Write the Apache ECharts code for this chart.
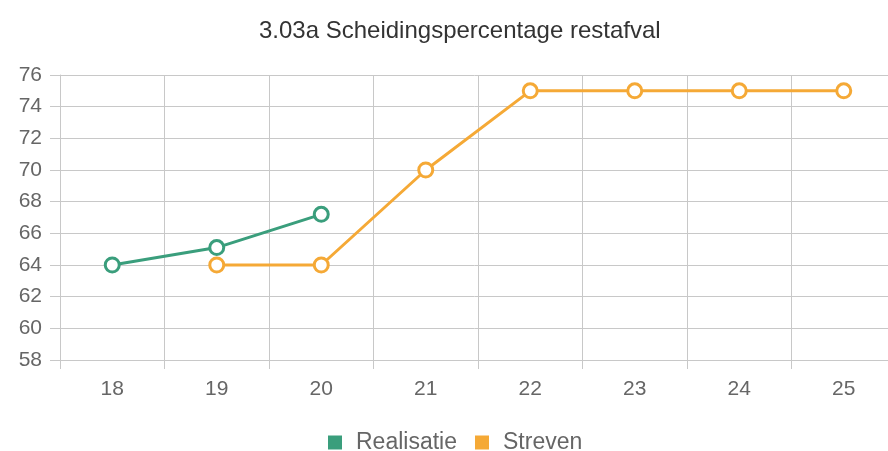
<!DOCTYPE html>
<html>
<head>
<meta charset="utf-8">
<script src="https://cdn.jsdelivr.net/npm/echarts@6/dist/echarts.min.js"></script>
<style>
  html, body { margin: 0; padding: 0; background: #fff; }
  #chart { width: 888px; height: 451px; }
</style>
</head>
<body>
<div id="chart"></div>
<script>
const years = ['18', '19', '20', '21', '22', '23', '24', '25'];
const realisatie = [64, 65.1, 67.2, null, null, null, null, null];
const streven = [null, 64, 64, 70, 75, 75, 75, 75];

const green = '#3a9e7c';
const orange = '#f5a936';
const gridColor = '#c8c8c8';
const textColor = '#666';
const font = 'Liberation Sans, Arial';

const chart = echarts.init(document.getElementById('chart'));

// the original canvas was a bit wider than the crop, so plot and texts sit right of centre
chart.setOption({
  backgroundColor: '#fff',
  animation: false,
  title: {
    text: '3.03a Scheidingspercentage restafval',
    left: 254,
    top: 14,
    textStyle: { color: '#333', fontSize: 24, fontWeight: 'normal', fontFamily: font }
  },
  legend: {
    top: 426,
    left: 323,
    icon: 'rect',
    itemWidth: 14,
    itemHeight: 14,
    itemGap: 18,
    data: [
      { name: 'Realisatie', itemStyle: { color: green, borderWidth: 0 } },
      { name: 'Streven', itemStyle: { color: orange, borderWidth: 0 } }
    ],
    textStyle: { color: textColor, fontSize: 23, fontFamily: font, padding: [0, 0, 0, 9] }
  },
  grid: { left: 60, width: 836, top: 75, bottom: 91, outerBoundsMode: 'none' },
  xAxis: {
    type: 'category',
    data: years,
    boundaryGap: true,
    axisLine: { show: true, lineStyle: { color: gridColor } },
    axisTick: { show: true, length: 9, lineStyle: { color: gridColor } },
    splitLine: { show: true, lineStyle: { color: gridColor } },
    axisLabel: { color: textColor, fontSize: 21, margin: 19, fontFamily: font }
  },
  yAxis: {
    type: 'value',
    min: 58,
    max: 76,
    interval: 2,
    axisLine: { show: true, lineStyle: { color: gridColor } },
    axisTick: { show: true, length: 10, lineStyle: { color: gridColor } },
    splitLine: { show: true, lineStyle: { color: gridColor } },
    axisLabel: { color: textColor, fontSize: 21, margin: 18, fontFamily: font }
  },
  series: [
    {
      name: 'Realisatie',
      type: 'line',
      data: realisatie,
      symbol: 'circle',
      symbolSize: 14,
      showAllSymbol: true,
      lineStyle: { color: green, width: 3 },
      itemStyle: { color: '#fff', borderColor: green, borderWidth: 3 },
      z: 3
    },
    {
      name: 'Streven',
      type: 'line',
      data: streven,
      symbol: 'circle',
      symbolSize: 14,
      showAllSymbol: true,
      lineStyle: { color: orange, width: 3 },
      itemStyle: { color: '#fff', borderColor: orange, borderWidth: 3 },
      z: 2
    }
  ]
});
</script>
</body>
</html>
